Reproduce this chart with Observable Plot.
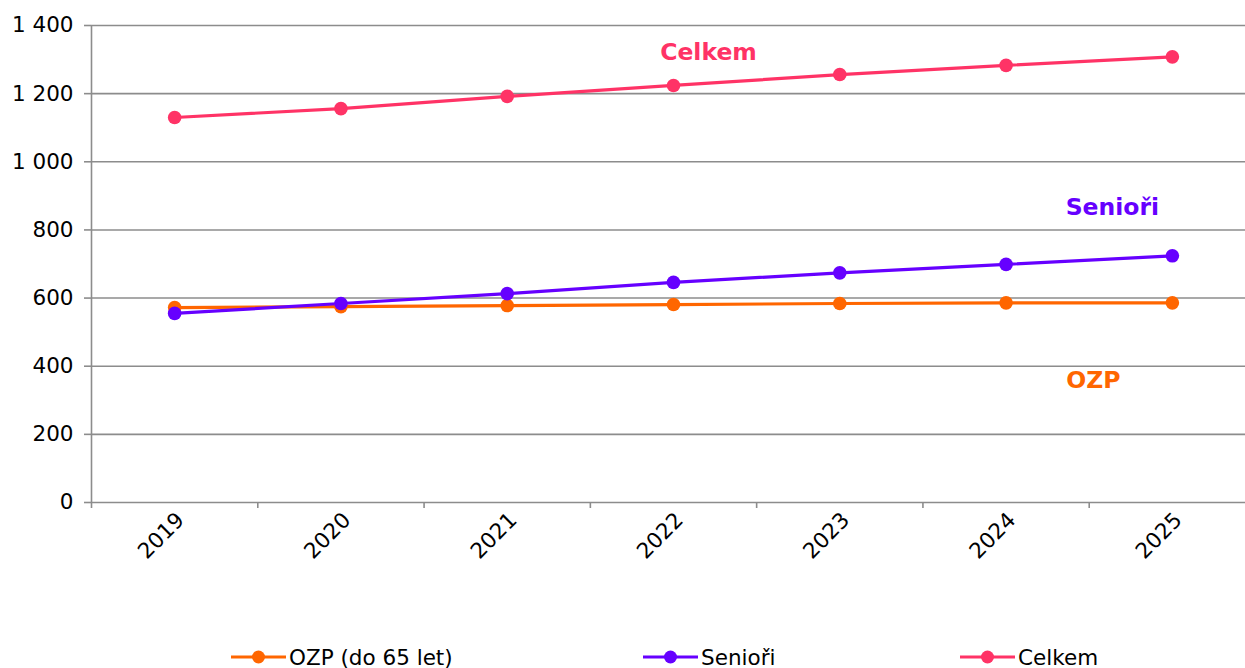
<!DOCTYPE html>
<html>
<head>
<meta charset="utf-8">
<script src="https://cdn.jsdelivr.net/npm/d3@7"></script>
<script src="https://cdn.jsdelivr.net/npm/@observablehq/plot@0.6"></script>
<style>
  html, body { margin: 0; padding: 0; background: white; overflow: hidden; width: 1245px; height: 668px; }
  #chart { position: absolute; left: 0; top: 0; }
  #chart svg { max-width: none; }
  .legend { position: absolute; top: 645px; left: 0; width: 1245px; height: 24px; font-family: "DejaVu Sans", Verdana, sans-serif; font-size: 21.5px; color: #000; }
  .item { position: absolute; display: flex; align-items: center; height: 24px; }
  .item svg { margin-right: 3px; }
</style>
</head>
<body>
<div id="chart"></div>
<div class="legend" id="legend"></div>
<script>
const years = [2019, 2020, 2021, 2022, 2023, 2024, 2025];
const ozp = [572, 575, 578, 581, 584, 586, 586];
const seniori = [555, 584, 613, 646, 674, 699, 724];
const celkem = [1130, 1156, 1192, 1224, 1256, 1283, 1308];
const seriesNames = ["OZP (do 65 let)", "Senioři", "Celkem"];
const seriesColors = ["#ff6600", "#6600ff", "#ff3366"];
const yTicks = [0, 200, 400, 600, 800, 1000, 1200, 1400];
const boundaries = [2018.5, 2019.5, 2020.5, 2021.5, 2022.5, 2023.5, 2024.5, 2025.5];
const labelTexts = ["Celkem", "Senioři", "OZP"];
const labelYears = [2022, 2025, 2025];
const labelValues = [1321, 866, 358];
const labelShift = [35, -60, -79];
const labelColors = ["#ff3366", "#6600ff", "#ff6600"];

const seriesValues = [ozp, seniori, celkem];
const rows = [];
seriesNames.forEach((name, i) => {
  years.forEach((yr, j) => rows.push({series: name, year: yr, value: seriesValues[i][j]}));
});

const fmt = d => d3.format(",")(d).replace(/,/g, " ");
const gray = "#8c8c8c";

const labelMarks = labelTexts.map((t, i) =>
  Plot.text([{x: labelYears[i], y: labelValues[i]}], {
    x: "x", y: "y", text: () => t, dx: labelShift[i],
    fill: labelColors[i], fontWeight: "bold", fontSize: 23.5
  })
);

const chart = Plot.plot({
  width: 1256,
  height: 630,
  marginLeft: 91,
  marginRight: 1,
  marginTop: 25,
  marginBottom: 128,
  style: {fontFamily: "DejaVu Sans, Verdana, sans-serif", fontSize: "21.5px", color: "#000", background: "white"},
  x: {type: "linear", domain: [2018.5, 2025.5]},
  y: {domain: [0, 1400]},
  color: {domain: seriesNames, range: seriesColors},
  marks: [
    Plot.ruleY(yTicks, {stroke: gray, strokeWidth: 1.6, strokeOpacity: 1}),
    Plot.ruleX([2018.5], {stroke: gray, strokeWidth: 1.6}),
    Plot.axisY({ticks: yTicks, tickFormat: fmt, tickSize: 7, tickPadding: 11, stroke: gray, strokeWidth: 1.6, strokeOpacity: 1, fill: "#000", label: null, fontSize: 21.5}),
    Plot.axisX({ticks: boundaries, tickFormat: () => "", tickSize: 6, stroke: gray, strokeWidth: 1.6, strokeOpacity: 1, label: null}),
    Plot.axisX({ticks: years, tickFormat: d => String(d), tickSize: 0, tickPadding: 14, tickRotate: -45, fill: "#000", label: null, fontSize: 21.5, dx: 6}),
    Plot.lineY(rows, {x: "year", y: "value", z: "series", stroke: "series", strokeWidth: 3.2}),
    Plot.dot(rows, {x: "year", y: "value", fill: "series", r: 6.8, stroke: null}),
    ...labelMarks
  ]
});
document.getElementById("chart").appendChild(chart);

// legend
const legendPos = [231, 643, 960];
const legend = document.getElementById("legend");
seriesNames.forEach((name, i) => {
  const item = document.createElement("div");
  item.className = "item";
  item.style.left = legendPos[i] + "px";
  item.innerHTML = `<svg width="55" height="20"><line x1="0" x2="55" y1="10" y2="10" stroke="${seriesColors[i]}" stroke-width="3.2"/><circle cx="27.5" cy="10" r="6.5" fill="${seriesColors[i]}"/></svg><span>${name}</span>`;
  legend.appendChild(item);
});
</script>
</body>
</html>
